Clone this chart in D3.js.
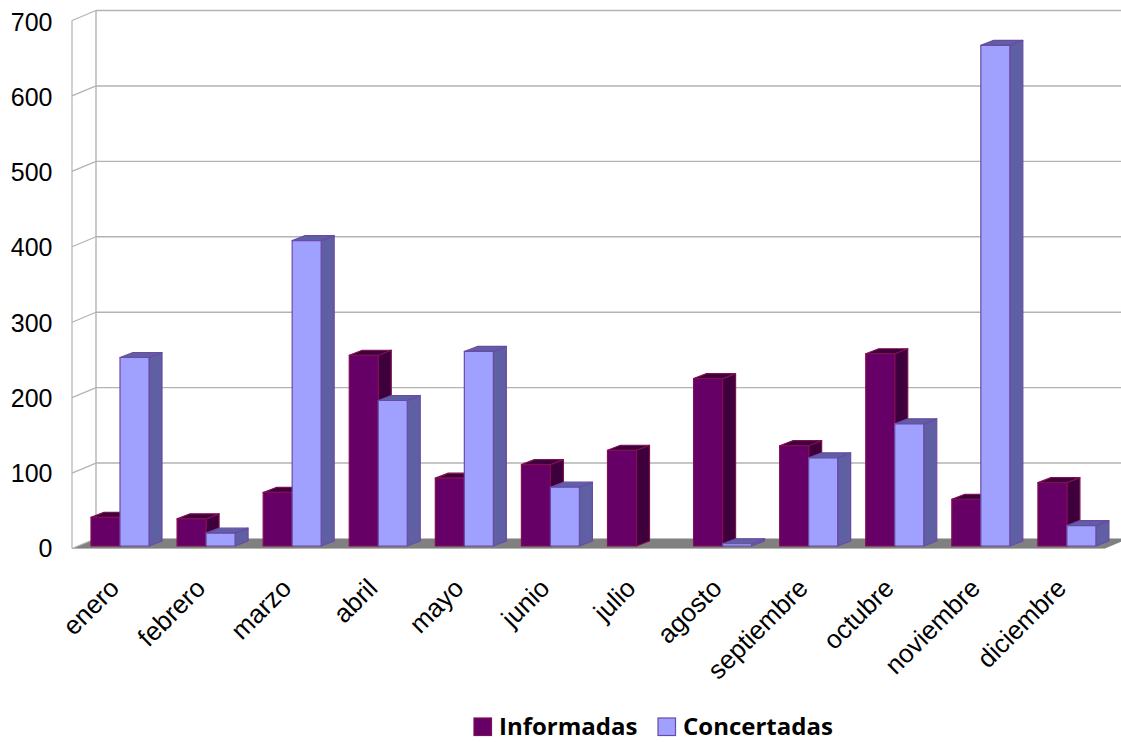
<!DOCTYPE html>
<html><head><meta charset="utf-8">
<script src="https://cdn.jsdelivr.net/npm/d3@7"></script>
<style>html,body{margin:0;padding:0;background:#fff;overflow:hidden}svg{display:block}</style>
</head><body><svg id="c" width="1121" height="742"></svg>
<script>
const categories=["enero","febrero","marzo","abril","mayo","junio","julio","agosto","septiembre","octubre","noviembre","diciembre"];
const informadas=[38,36,71,253,90,108,127,222,133,255,62,84];
const concertadas=[250,17,405,193,258,78,0,3,117,162,664,27];
const seriesNames=["Informadas","Concertadas"];
const yTicks=[0,100,200,300,400,500,600,700];

const svg=d3.select("#c");
const wallDx=24,wallDy=10,barDx=13,barDy=5;
const yAxisScale=d3.scaleLinear().domain([0,700]).range([548.5,20.5]);
const yLabel=d3.scaleLinear().domain([0,700]).range([557,31]);
const yBar=d3.scaleLinear().domain([0,700]).range([546,18.2]);
const x0=d3.scaleBand().domain(categories).range([77.5,1110.5]).paddingInner(0).paddingOuter(0);
const x1=d3.scaleBand().domain(seriesNames).range([13.5,71.5]);
const styles={Informadas:{front:"#660066",top:"#3d003d",side:"#3d003d",stroke:"#7f0f50"},
              Concertadas:{front:"#a0a0ff",top:"#5f5fa3",side:"#5f5fa3",stroke:"#6a4aa5"}};
const gridColor="#b3b3b3";

const y0=yAxisScale(0);
svg.append("polygon").attr("points",[[72,y0],[72+wallDx,y0-wallDy],[1129,y0-wallDy],[1105,y0]].join(" ")).attr("fill","#808080");

yTicks.forEach(t=>{
  const y=yAxisScale(t);
  if(t>0) svg.append("line").attr("x1",72+wallDx).attr("x2",1121).attr("y1",y-wallDy).attr("y2",y-wallDy).attr("stroke",gridColor).attr("stroke-width",1.4);
  svg.append("line").attr("x1",72).attr("x2",72+wallDx).attr("y1",y).attr("y2",y-wallDy).attr("stroke",gridColor).attr("stroke-width",1.2);
  svg.append("text").attr("x",52.5).attr("y",yLabel(t)).attr("text-anchor","end")
    .attr("font-family","Liberation Sans").attr("font-size",25).attr("fill","#000").text(t);
});
svg.append("line").attr("x1",72+wallDx).attr("x2",72+wallDx).attr("y1",yAxisScale(700)-wallDy).attr("y2",y0-wallDy).attr("stroke",gridColor).attr("stroke-width",1.4);
svg.append("line").attr("x1",72).attr("x2",72).attr("y1",yAxisScale(700)).attr("y2",y0).attr("stroke",gridColor).attr("stroke-width",1.2);
svg.append("line").attr("x1",72).attr("x2",1105).attr("y1",y0).attr("y2",y0).attr("stroke",gridColor).attr("stroke-width",1.2);

const values={Informadas:informadas,Concertadas:concertadas};
categories.forEach((c,i)=>{
  seriesNames.forEach(s=>{
    const v=values[s][i]; if(v===0) return;
    const st=styles[s];
    const l=x0(c)+x1(s),r=l+x1.bandwidth(),t=yBar(v),b=yBar(0);
    const g=svg.append("g").attr("stroke",st.stroke).attr("stroke-width",1.2).attr("stroke-linejoin","round");
    g.append("polygon").attr("points",[[r,t],[r+barDx,t-barDy],[r+barDx,b-barDy],[r,b]].join(" ")).attr("fill",st.side);
    g.append("polygon").attr("points",[[l,t],[l+barDx,t-barDy],[r+barDx,t-barDy],[r,t]].join(" ")).attr("fill",st.top);
    g.append("rect").attr("x",l).attr("y",t).attr("width",r-l).attr("height",b-t).attr("fill",st.front);
  });
});

categories.forEach(c=>{
  const cx=x0(c)+x1.bandwidth()/2+x1.step()*1.0-10;
  svg.append("text").attr("text-anchor","end").attr("font-family","Liberation Sans").attr("font-size",26)
    .attr("fill","#000").attr("transform",`translate(${cx-4},${576}) rotate(-45)`).attr("dy","0.75em").text(c);
});

const legend=[{n:"Informadas",sx:474,tx:499},{n:"Concertadas",sx:658,tx:683}];
legend.forEach(d=>{
  const st=styles[d.n];
  svg.append("rect").attr("x",d.sx).attr("y",718).attr("width",17.5).attr("height",17.5).attr("fill",st.front).attr("stroke",st.stroke).attr("stroke-width",1.2);
  svg.append("text").attr("x",d.tx).attr("y",735).attr("font-family","Open Sans").attr("font-weight",700).attr("font-size",24).attr("fill","#000").text(d.n);
});
</script></body></html>
